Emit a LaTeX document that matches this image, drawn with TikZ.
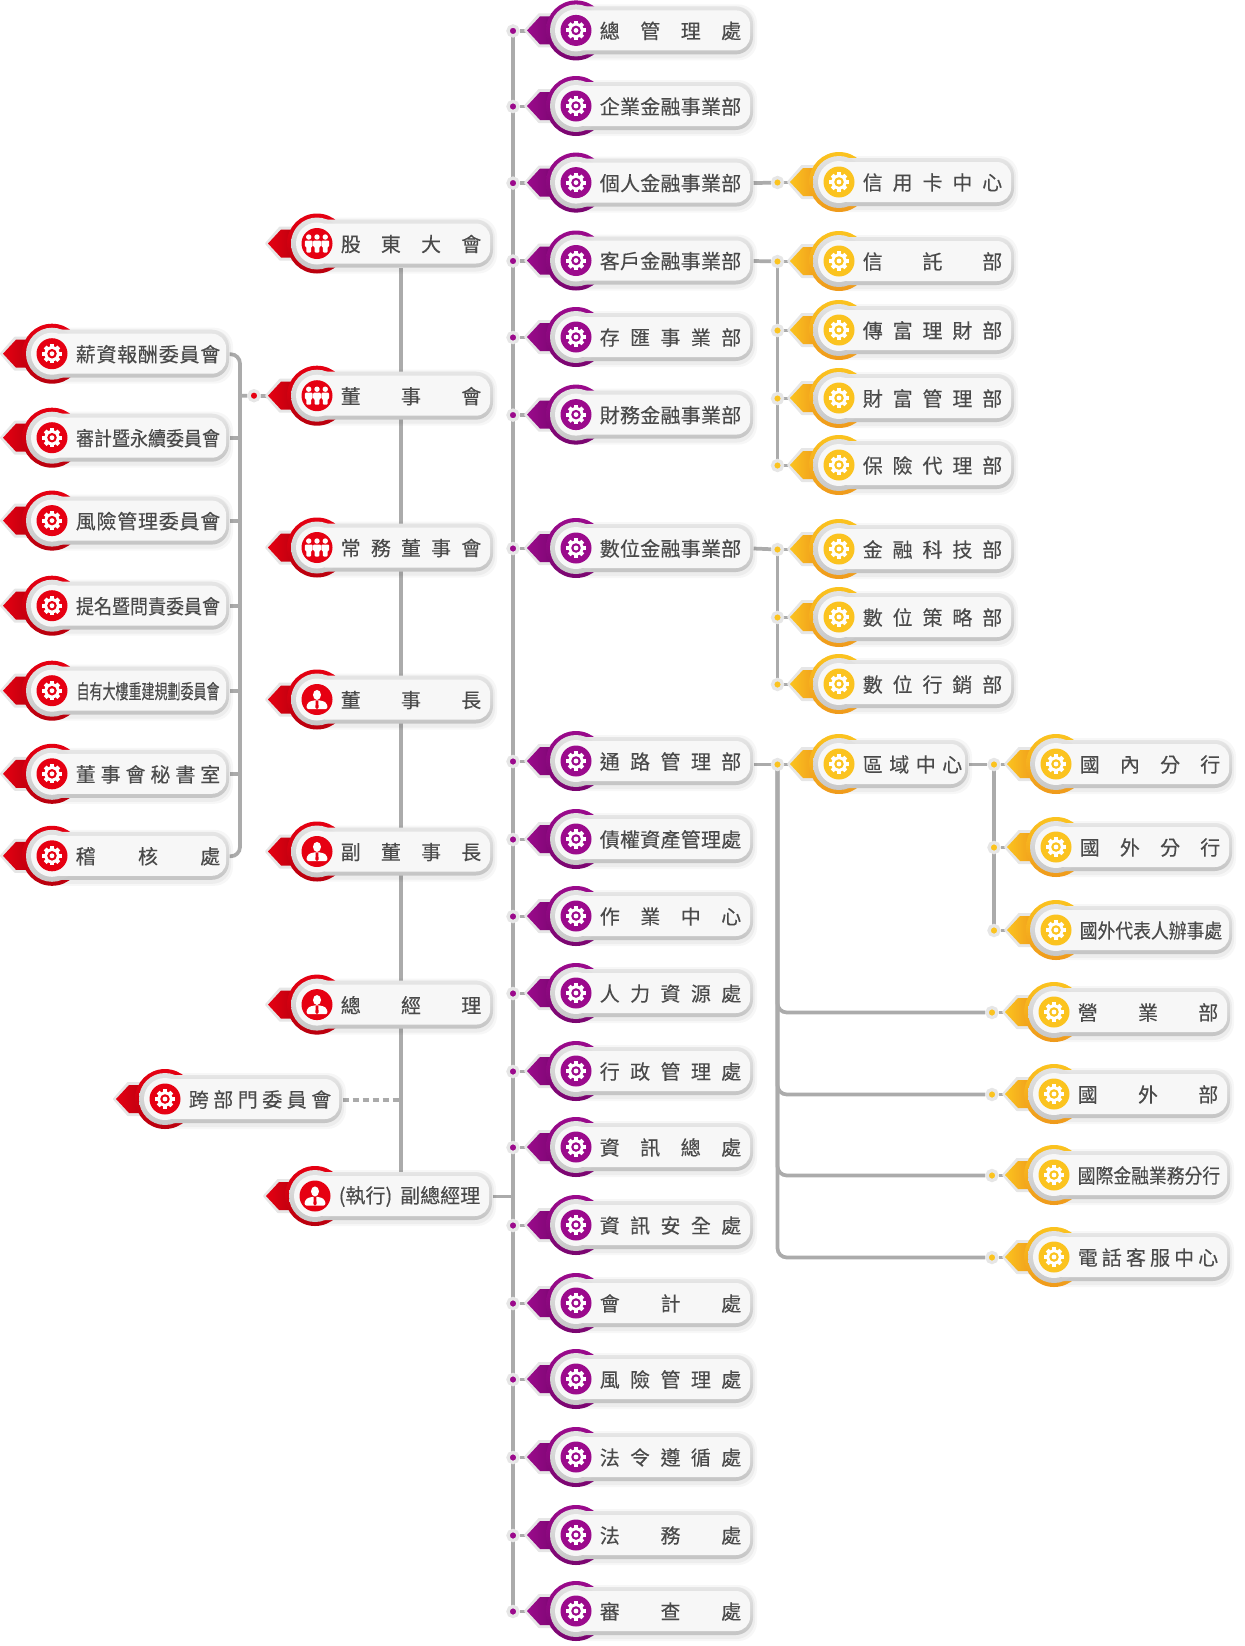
\documentclass[tikz,border=0pt]{standalone}
\usepackage{graphicx}
\usepackage{fontspec}
\setmainfont[FakeBold=0.2]{Noto Sans CJK TC}
\usetikzlibrary{backgrounds}
\definecolor{baseR}{HTML}{E60012}\definecolor{darkR}{HTML}{B9000E}
\definecolor{baseP}{HTML}{9B0A8C}\definecolor{darkP}{HTML}{7A0670}
\definecolor{baseY}{HTML}{FBC31F}\definecolor{darkY}{HTML}{EF9A1C}
\definecolor{halo}{HTML}{E6E6E6}
\definecolor{ink}{HTML}{4A4A4A}
\definecolor{lineg}{HTML}{ABABAB}
\tikzset{
  conn/.style={draw=lineg,line width=2.8pt},
  dotbase/.style={circle,inner sep=0pt,minimum size=7.5pt,draw=halo,line width=2.5pt},
  dotR/.style={dotbase,fill=baseR},
  dotP/.style={dotbase,fill=baseP},
  dotY/.style={dotbase,fill=baseY},
}
\makeatletter
\newcommand{\dist}[1]{\@tempswafalse\@tfor\ch:=#1\do{\if@tempswa\hfill\fi\ch\@tempswatrue}}
\makeatother
\newcommand{\icongear}[3]{%
  \begin{scope}[shift={(#1,#2)}]
    \foreach \a in {0,45,90,135}{\fill[white,rotate=\a] (-2,-9.6) rectangle (2,9.6);}
    \fill[white] (0,0) circle[radius=7.6];
    \fill[#3] (0,0) circle[radius=4.8];
    \fill[white] (0,0) circle[radius=2.4];
  \end{scope}}
\newcommand{\iconperson}[3]{%
  \begin{scope}[shift={(#1,#2)}]
    \fill[white] (0,-4.6) ellipse[x radius=4,y radius=5];
    \fill[white,rounded corners=1.5pt] (-10.5,9.5) -- (-10,3.5) -- (-4,0.8) -- (4,0.8) -- (10,3.5) -- (10.5,9.5) -- cycle;
    \fill[#3] (-1.3,1) -- (1.3,1) -- (1.6,8) -- (0,9.5) -- (-1.6,8) -- cycle;
  \end{scope}}
\newcommand{\onefig}[1]{%
  \begin{scope}[xshift=#1]
    \fill[white] (0,-6.5) circle[radius=2.7];
    \fill[white,rounded corners=.7pt] (-3.8,-3) -- (3.8,-3) -- (4,3) -- (2.4,3) -- (2.4,9) -- (-2.4,9) -- (-2.4,3) -- (-4,3) -- cycle;
  \end{scope}}
\newcommand{\icongroup}[3]{%
  \begin{scope}[shift={(#1,#2)}]
    \onefig{-6.2pt}\onefig{6.2pt}\onefig{0pt}
  \end{scope}}
% [offset]{name}{cx}{cy}{right}{family}{icon}{text}
\newcommand{\orgbox}[8][12]{%
  \pgfmathsetmacro\wL{72.5*0.75}%
  \pgfmathsetmacro\wT{(#5-#1-#3-23.5)*0.75}%
  \pgfmathsetmacro\wR{#1*0.75}%
  \foreach \d/\o in {4/.03,2/.04}{
    \fill[black,opacity=\o,rounded corners=14pt] ({#3-8},{#4-24-\d+2}) rectangle ({#5+\d},{#4+24+\d+2});}
  \fill[halo,draw=halo,line width=1.5pt,line join=round] ({#3-51},#4) -- ({#3-37},{#4-16}) -- ({#3-20},{#4-16}) -- ({#3-20},{#4+16}) -- ({#3-37},{#4+16}) -- cycle;
  \shade[left color=base#6,right color=dark#6] ({#3-49},#4) -- ({#3-36},{#4-14}) -- ({#3-20},{#4-14}) -- ({#3-20},{#4+14}) -- ({#3-36},{#4+14}) -- cycle;
  \shade[top color=base#6,bottom color=dark#6] (#3,#4) circle[radius=30];
  \shade[top color=black!10,bottom color=black!23,rounded corners=13pt] ({#3-8},{#4-24}) rectangle (#5,{#4+24});
  \shade[top color=black!11,bottom color=black!22] (#3,#4) circle[radius=26];
  \fill[black!3] (#3,#4) circle[radius=21];
  \fill[black!3,rounded corners=10.5pt] ({#3-6},{#4-20}) rectangle ({#5-3},{#4+20});
  \fill[base#6] (#3,#4) circle[radius=15.5];
  \csname icon#7\endcsname{#3}{#4}{base#6}%
  \node[anchor=west,inner sep=0pt,minimum height=36pt,text=ink,font=\fontsize{15pt}{16pt}\selectfont] (#2) at ({#3-49},{#4+.5})
    {\hspace*{\wL pt}\makebox[\wT pt][s]{#8}\hspace*{\wR pt}};
}
\newcommand{\cond}[2]{\hfill\scalebox{#1}[1]{#2}\hfill}
\begin{document}
\begin{tikzpicture}[x=0.75pt,y=-0.75pt]
\useasboundingbox (0,0) rectangle (1245,1646);
% left committees
\orgbox[9]{ca}{52}{353.7}{229}{R}{gear}{\dist{薪資報酬委員會}}
\orgbox[9]{cb}{52}{437.7}{229}{R}{gear}{\cond{.9}{審計暨永續委員會}}
\orgbox[9]{cc}{52}{520.6}{229}{R}{gear}{\dist{風險管理委員會}}
\orgbox[9]{cd}{52}{605.7}{229}{R}{gear}{\cond{.9}{提名暨問責委員會}}
\orgbox[9]{ce}{52}{690.7}{229}{R}{gear}{\cond{.65}{自有大樓重建規劃委員會}}
\orgbox[9]{cf}{52}{773.8}{229}{R}{gear}{\dist{董事會秘書室}}
\orgbox[9]{cg}{52}{855.8}{229}{R}{gear}{\dist{稽核處}}
% board column
\orgbox{ba}{317}{243.5}{493}{R}{group}{\dist{股東大會}}
\orgbox{bb}{317}{395.7}{493}{R}{group}{\dist{董事會}}
\orgbox{bc}{317}{547.5}{493}{R}{group}{\dist{常務董事會}}
\orgbox{bd}{317}{699.5}{493}{R}{person}{\dist{董事長}}
\orgbox{be}{317}{851.5}{493}{R}{person}{\dist{副董事長}}
\orgbox{bf}{317}{1004.6}{493}{R}{person}{\dist{總經理}}
\orgbox{bg}{315}{1196}{492}{R}{person}{(執行)\hfill 副總經理}
\orgbox[11]{xc}{165}{1099}{342}{R}{gear}{\dist{跨部門委員會}}
% purple column
\orgbox{pa}{576}{30.4}{753}{P}{gear}{\dist{總管理處}}
\orgbox{pb}{576}{106}{753}{P}{gear}{\dist{企業金融事業部}}
\orgbox{pc}{576}{182.6}{753}{P}{gear}{\dist{個人金融事業部}}
\orgbox{pd}{576}{260.5}{753}{P}{gear}{\dist{客戶金融事業部}}
\orgbox{pe}{576}{337}{753}{P}{gear}{\dist{存匯事業部}}
\orgbox{pf}{576}{414.6}{753}{P}{gear}{\dist{財務金融事業部}}
\orgbox{pg}{576}{548}{753}{P}{gear}{\dist{數位金融事業部}}
\orgbox{ph}{576}{761}{753}{P}{gear}{\dist{通路管理部}}
\orgbox{pi}{576}{839}{753}{P}{gear}{\dist{債權資產管理處}}
\orgbox{pj}{576}{916}{753}{P}{gear}{\dist{作業中心}}
\orgbox{pk}{576}{993}{753}{P}{gear}{\dist{人力資源處}}
\orgbox{pl}{576}{1071}{753}{P}{gear}{\dist{行政管理處}}
\orgbox{pm}{576}{1147}{753}{P}{gear}{\dist{資訊總處}}
\orgbox{pn}{576}{1225}{753}{P}{gear}{\dist{資訊安全處}}
\orgbox{po}{576}{1303}{753}{P}{gear}{\dist{會計處}}
\orgbox{pp}{576}{1379}{753}{P}{gear}{\dist{風險管理處}}
\orgbox{pq}{576}{1457}{753}{P}{gear}{\dist{法令遵循處}}
\orgbox{pr}{576}{1535}{753}{P}{gear}{\dist{法務處}}
\orgbox{ps}{576}{1611}{753}{P}{gear}{\dist{審查處}}
% yellow column
\orgbox{ya}{839}{182}{1014}{Y}{gear}{\dist{信用卡中心}}
\orgbox{yb}{839}{261}{1014}{Y}{gear}{\dist{信託部}}
\orgbox{yc}{839}{330}{1014}{Y}{gear}{\dist{傳富理財部}}
\orgbox{yd}{839}{398}{1014}{Y}{gear}{\dist{財富管理部}}
\orgbox{ye}{839}{465}{1014}{Y}{gear}{\dist{保險代理部}}
\orgbox{yf}{839}{549}{1014}{Y}{gear}{\dist{金融科技部}}
\orgbox{yg}{839}{617}{1014}{Y}{gear}{\dist{數位策略部}}
\orgbox{yh}{839}{684}{1014}{Y}{gear}{\dist{數位行銷部}}
\orgbox[6]{yi}{839}{764}{968}{Y}{gear}{\dist{區域中心}}
% far column
\orgbox{za}{1056}{764}{1232}{Y}{gear}{\dist{國內分行}}
\orgbox{zb}{1056}{847}{1232}{Y}{gear}{\dist{國外分行}}
\orgbox{zc}{1056}{930}{1232}{Y}{gear}{\cond{.89}{國外代表人辦事處}}
\orgbox{zd}{1054}{1012}{1230}{Y}{gear}{\dist{營業部}}
\orgbox{ze}{1054}{1094}{1230}{Y}{gear}{\dist{國外部}}
\orgbox{zf}{1054}{1175}{1230}{Y}{gear}{\cond{.89}{國際金融業務分行}}
\orgbox{zg}{1054}{1257}{1230}{Y}{gear}{\dist{電話客服中心}}
% trunks and dots
\coordinate (tC) at (240,0);
\coordinate (tB) at (401,0);
\coordinate (tP) at (513,0);
\coordinate (tY) at (777.5,0);
\coordinate (tR) at (992,0);
\coordinate (tS) at (994,0);
\node[dotR] (dj) at (254,395.7) {};
\foreach \n in {pa,pb,pc,pd,pe,pf,pg,ph,pi,pj,pk,pl,pm,pn,po,pp,pq,pr,ps}{
  \node[dotP] (d\n) at (tP |- \n.west) {};}
\foreach \n in {ya,yb,yc,yd,ye,yf,yg,yh,yi}{
  \node[dotY] (d\n) at (tY |- \n.west) {};}
\foreach \n in {za,zb,zc}{
  \node[dotY] (d\n) at (tS |- \n.west) {};}
\foreach \n in {zd,ze,zf,zg}{
  \node[dotY] (d\n) at (tR |- \n.west) {};}
\begin{pgfonlayer}{background}
  % left bracket
  \draw[conn,rounded corners=7pt] (ca.east) -- (tC |- ca.east) -- (tC |- cg.east) -- (cg.east);
  \foreach \n in {cb,cc,cd,ce,cf}{\draw[conn] (\n.east) -- (tC |- \n.east);}
  \draw[conn] (tC |- dj) -- (dj) -- (bb.west);
  % board trunk
  \draw[conn] (tB |- ba.south) -- (tB |- bg.north);
  \draw[conn,line width=3pt,dash pattern=on 4.5pt off 3pt] (xc.east) -- (tB |- xc.east);
  % purple trunk
  \draw[conn] (dpa.center) -- (dps.center);
  \draw[conn] (bg.east) -- (tP |- bg.east);
  \foreach \n in {pa,pb,pc,pd,pe,pf,pg,ph,pi,pj,pk,pl,pm,pn,po,pp,pq,pr,ps}{
    \draw[conn] (d\n) -- (\n.west);}
  % yellow
  \draw[conn] (pc.east) -- (dya);
  \draw[conn] (pd.east) -- (dyb);
  \draw[conn] (dyb.center) -- (dye.center);
  \draw[conn] (pg.east) -- (dyf);
  \draw[conn] (dyf.center) -- (dyh.center);
  \draw[conn] (ph.east |- dyi) -- (dyi);
  \foreach \n in {ya,yb,yc,yd,ye,yf,yg,yh,yi,za,zb,zc,zd,ze,zf,zg}{
    \draw[conn] (d\n) -- (\n.west);}
  \draw[conn] (yi.east) -- (dza);
  \draw[conn] (dza.center) -- (dzc.center);
  \foreach \n in {zd,ze,zf,zg}{
    \draw[conn,rounded corners=7pt] (dyi.center) -- (dyi.center |- d\n) -- (d\n);}
\end{pgfonlayer}
\end{tikzpicture}
\end{document}
